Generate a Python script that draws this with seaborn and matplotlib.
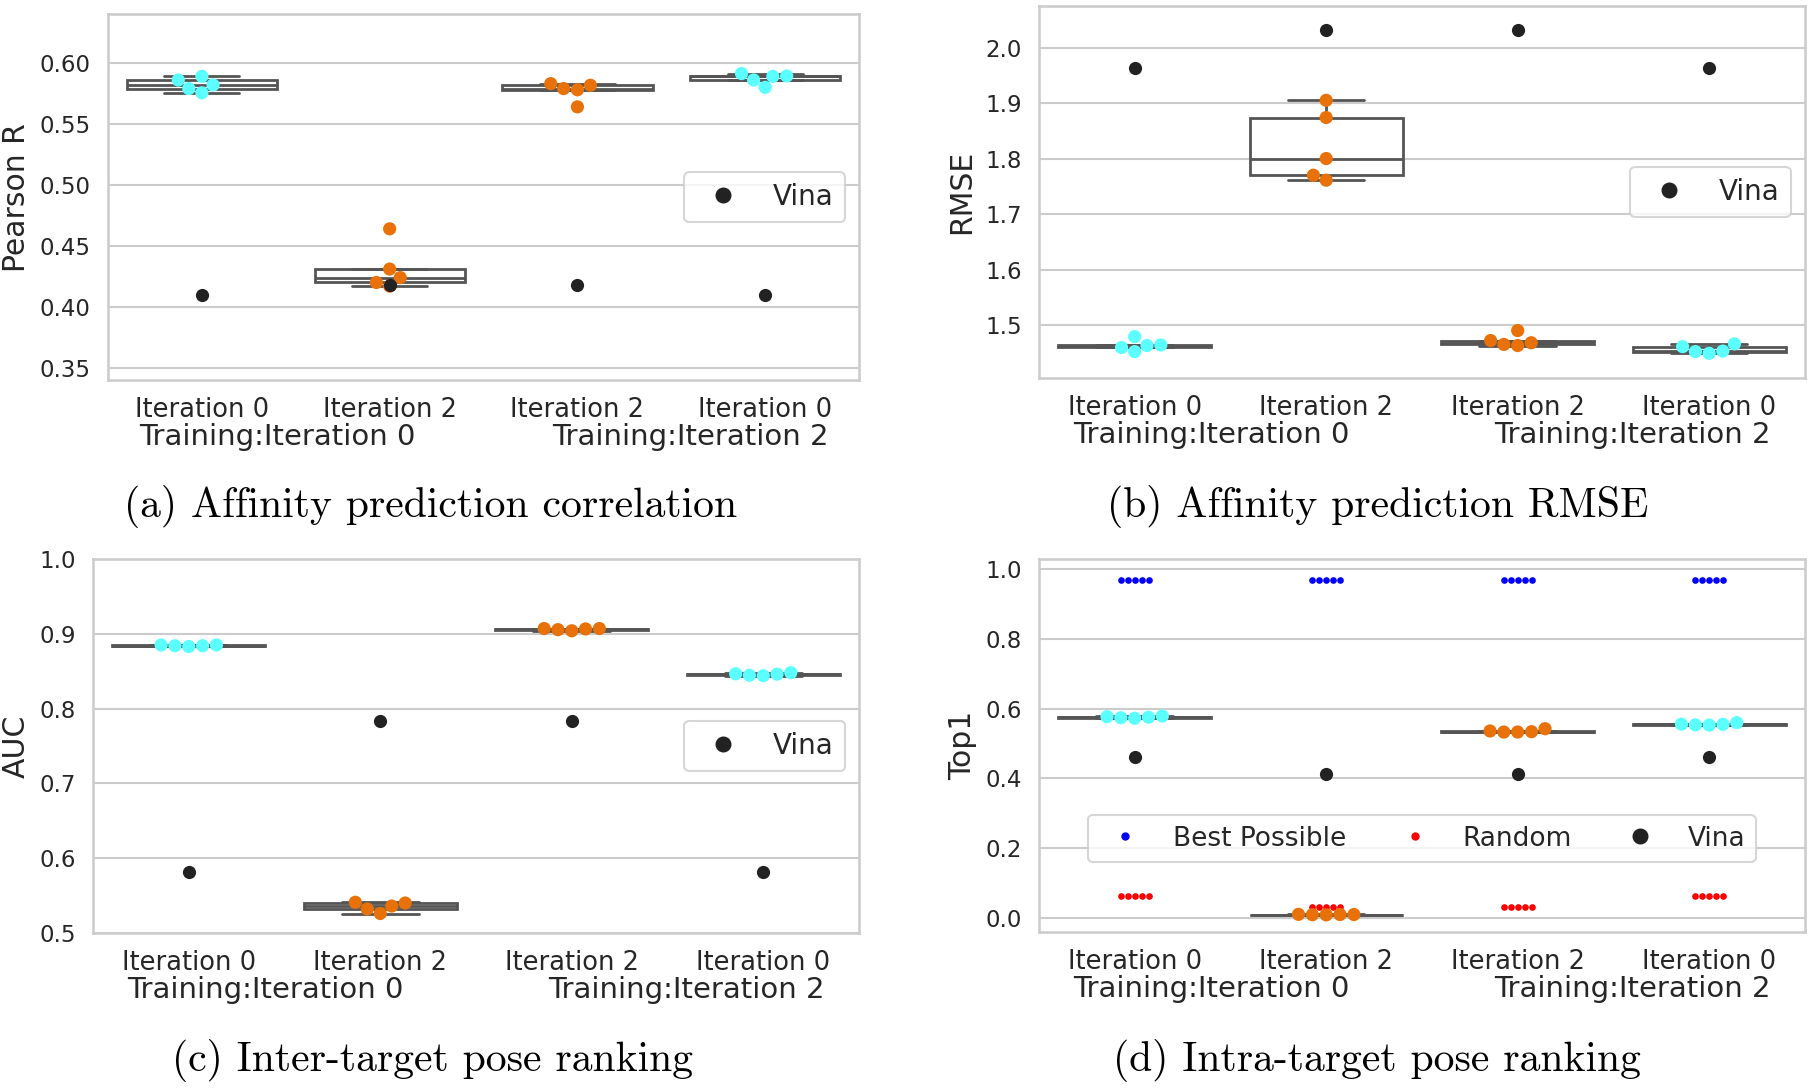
import matplotlib
matplotlib.use("Agg")
import matplotlib.pyplot as plt
import numpy as np
import pandas as pd
import seaborn as sns
from matplotlib.lines import Line2D

# Model results (5 runs each) and baselines for the four panels.
groups = ["T0-Iter0", "T0-Iter2", "T2-Iter2", "T2-Iter0"]
tick_labels = ["Iteration 0", "Iteration 2", "Iteration 2", "Iteration 0"]
training_labels = ["Training:Iteration 0", "Training:Iteration 2"]

pearson_runs = [
    [0.5755, 0.579, 0.582, 0.586, 0.589],
    [0.417, 0.420, 0.424, 0.431, 0.464],
    [0.564, 0.578, 0.579, 0.5817, 0.583],
    [0.580, 0.586, 0.589, 0.5893, 0.5913],
]
pearson_vina = [0.410, 0.418, 0.418, 0.410]

rmse_runs = [
    [1.452, 1.4595, 1.463, 1.464, 1.479],
    [1.761, 1.770, 1.800, 1.874, 1.905],
    [1.463, 1.465, 1.468, 1.472, 1.490],
    [1.449, 1.452, 1.453, 1.461, 1.466],
]
rmse_vina = [1.963, 2.032, 2.032, 1.963]

auc_runs = [
    [0.883, 0.884, 0.884, 0.885, 0.885],
    [0.526, 0.532, 0.536, 0.540, 0.541],
    [0.904, 0.9055, 0.9065, 0.907, 0.907],
    [0.844, 0.8445, 0.846, 0.8465, 0.848],
]
auc_vina = [0.581, 0.784, 0.784, 0.581]

top1_runs = [
    [0.5725, 0.574, 0.5755, 0.577, 0.579],
    [0.009, 0.0095, 0.010, 0.010, 0.0105],
    [0.533, 0.533, 0.534, 0.536, 0.5425],
    [0.553, 0.5535, 0.555, 0.5555, 0.560],
]
top1_vina = [0.462, 0.412, 0.412, 0.462]
top1_best = [0.968, 0.968, 0.968, 0.968]
top1_random = [0.064, 0.031, 0.031, 0.064]

captions = [
    "(a) Affinity prediction correlation",
    "(b) Affinity prediction RMSE",
    "(c) Inter-target pose ranking",
    "(d) Intra-target pose ranking",
]

sns.set_theme(style="whitegrid", context="talk")

CYAN = "#5cffff"
ORANGE = "#e8710a"
VINA = "#222222"
palette = {groups[0]: CYAN, groups[1]: ORANGE, groups[2]: ORANGE, groups[3]: CYAN}


def long_df(runs):
    rows = []
    for g, vals in zip(groups, runs):
        for v in vals:
            rows.append({"group": g, "value": v})
    return pd.DataFrame(rows)


def repeat_df(vals, n=5):
    return pd.DataFrame({"group": np.repeat(groups, n), "value": np.repeat(vals, n)})


def draw_panel(ax, runs, vina, ylabel, ylim, yticks, yfmt, extra=None):
    df = long_df(runs)
    sns.boxplot(data=df, x="group", y="value", order=groups, color="white",
                linecolor="#555555", linewidth=2, showfliers=False, width=0.8, ax=ax)
    if extra is not None:
        for vals, col in extra:
            sns.swarmplot(data=repeat_df(vals), x="group", y="value", order=groups,
                          color=col, size=4.8, ax=ax)
    sns.swarmplot(data=df, x="group", y="value", order=groups, hue="group",
                  palette=palette, size=9.5, legend=False, ax=ax)
    vdf = pd.DataFrame({"group": groups, "value": vina})
    sns.stripplot(data=vdf, x="group", y="value", order=groups, color=VINA,
                  size=9.5, jitter=False, ax=ax)
    ax.set_ylim(*ylim)
    ax.set_yticks(yticks)
    ax.set_yticklabels([yfmt.format(t) for t in yticks])
    ax.set_ylabel(ylabel, fontsize=21.5, labelpad=6)
    ax.set_xlabel("")
    ax.set_xticks(range(4))
    ax.set_xticklabels(tick_labels, fontsize=18.5)
    ax.tick_params(axis="x", pad=3.5)
    # second line of the x labels: the training set, one per pair of boxes
    for xpos, lab in zip([0.4, 2.6], training_labels):
        ax.annotate(lab, xy=(xpos, 0), xycoords=("data", "axes fraction"),
                    xytext=(0, -57), textcoords="offset pixels",
                    ha="center", va="center", fontsize=21, color="#262626")


fig = plt.figure(figsize=(18.1, 10.89), dpi=100)
ax_a = fig.add_axes([0.0597, 0.651, 0.4149, 0.336])
ax_b = fig.add_axes([0.574, 0.6529, 0.4232, 0.3416])
ax_c = fig.add_axes([0.0514, 0.1433, 0.4232, 0.3434])
ax_d = fig.add_axes([0.574, 0.1442, 0.4232, 0.3425])

draw_panel(ax_a, pearson_runs, pearson_vina, "Pearson R", (0.34, 0.64),
           np.arange(0.35, 0.601, 0.05), "{:.2f}")
draw_panel(ax_b, rmse_runs, rmse_vina, "RMSE", (1.4045, 2.075),
           np.arange(1.5, 2.01, 0.1), "{:.1f}")
draw_panel(ax_c, auc_runs, auc_vina, "AUC", (0.5, 1.0),
           np.arange(0.5, 1.01, 0.1), "{:.1f}")
draw_panel(ax_d, top1_runs, top1_vina, "Top1", (-0.04, 1.029),
           np.arange(0.0, 1.01, 0.2), "{:.1f}",
           extra=[(top1_best, "blue"), (top1_random, "red")])

vina_handle = Line2D([], [], marker="o", ls="", color=VINA, markersize=10.5)
for ax in [ax_a, ax_b, ax_c]:
    ax.legend([vina_handle], ["Vina"], loc="center right", fontsize=20)
best_handle = Line2D([], [], marker="o", ls="", color="blue", markersize=5)
rand_handle = Line2D([], [], marker="o", ls="", color="red", markersize=5)
ax_d.legend([best_handle, rand_handle, vina_handle], ["Best Possible", "Random", "Vina"],
            loc="center", bbox_to_anchor=(0.5, 0.25), ncol=3, fontsize=19,
            columnspacing=1.6)

# subfigure captions in a LaTeX-like serif
for (x, y), text in zip([(0.238, 0.535), (0.761, 0.535), (0.239, 0.026), (0.761, 0.026)], captions):
    fig.text(x, y, text, ha="center", va="center", fontsize=30, family="cmr10", color="black")

fig.savefig("out.png", dpi=100)
